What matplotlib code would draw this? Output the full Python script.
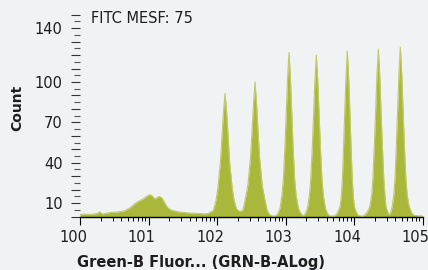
import numpy as np
import matplotlib
matplotlib.use("Agg")
import matplotlib.pyplot as plt
import matplotlib.transforms as mtransforms
from matplotlib.ticker import FixedLocator, NullFormatter

# ---- data (log10 of fluorescence, counts) ----
low_log = [0.0, 0.05, 0.15, 0.25, 0.29, 0.33, 0.42, 0.55, 0.65, 0.73, 0.80, 0.86,
           0.92, 0.97, 1.02, 1.06, 1.095, 1.13, 1.16, 1.20, 1.24, 1.28, 1.33, 1.42,
           1.55, 1.70, 1.82]
low_cnt = [1.5, 1.8, 1.5, 2.2, 3.4, 1.8, 2.8, 3.4, 4.2, 6.5, 9.5, 11.5,
           13.0, 15.0, 16.3, 15.0, 13.0, 14.2, 15.0, 13.5, 9.8, 6.5, 4.8, 3.6,
           2.8, 2.3, 2.0]

p1_log = [1.87, 1.948, 1.985, 2.012, 2.049, 2.071, 2.093, 2.117, 2.141, 2.163, 2.185,
          2.222, 2.249, 2.286, 2.336]
p1_cnt = [2.2, 4.6, 12, 21, 40, 59, 77, 91.6, 77, 59, 40, 21, 12, 5.5, 3.7]

p2_log = [2.38, 2.413, 2.45, 2.489, 2.512, 2.533, 2.555, 2.577, 2.598, 2.621,
          2.66, 2.697, 2.73, 2.765, 2.81]
p2_cnt = [5, 13, 23, 44, 64, 84, 100, 84, 64, 44, 23, 13, 5, 1.5, 0.4]

p3_log = [2.858, 2.89, 2.92, 2.948, 2.969, 2.993, 3.012, 3.030, 3.051, 3.072,
          3.090, 3.109, 3.133, 3.154, 3.188, 3.222, 3.255]
p3_cnt = [0.5, 2.4, 6, 16, 28, 53.7, 78, 102.5, 122, 102.5, 78, 53.7, 28, 16,
          6, 2.4, 0.4]

p4_log = [3.29, 3.32, 3.348, 3.368, 3.392, 3.411, 3.429, 3.45, 3.471, 3.489,
          3.508, 3.532, 3.552, 3.583, 3.612, 3.64, 3.68]
p4_cnt = [2.4, 6, 15.6, 27.6, 52.8, 77, 101, 120, 101, 77, 52.8, 27.6, 15.6,
          6, 2.4, 0.5, 0.3]

p5_log = [3.72, 3.755, 3.797, 3.816, 3.831, 3.849, 3.865, 3.882, 3.902, 3.922, 3.939,
          3.955, 3.974, 3.989, 4.004, 4.04, 4.075, 4.117]
p5_cnt = [0.5, 2.4, 7.3, 16, 28, 54, 79, 103, 123, 103, 79, 54, 28, 16, 7.3,
          2.4, 0.5, 0.3]

p6_log = [4.14, 4.183, 4.231, 4.258, 4.276, 4.298, 4.317, 4.334, 4.355, 4.376, 4.393,
          4.412, 4.434, 4.451, 4.466, 4.50, 4.515]
p6_cnt = [0.5, 2.4, 7.3, 16, 28.6, 55, 80, 104.6, 124.5, 104.6, 80, 55, 28.6,
          16, 7.3, 2.4, 1.5]

p7_log = [4.533, 4.556, 4.581, 4.599, 4.62, 4.638, 4.655, 4.676, 4.697, 4.715,
          4.733, 4.756, 4.776, 4.806, 4.844, 4.88, 5.0]
p7_cnt = [2.4, 7.3, 16, 29, 55.4, 80.6, 106, 126, 106, 80.6, 55.4, 29, 16, 7.3,
          2.4, 0.8, 0.3]

x_tick_labels = ["100", "101", "102", "103", "104", "105"]
y_tick_values = [10, 40, 70, 100, 140]
annotation = "FITC MESF: 75"
x_label = "Green-B Fluor... (GRN-B-ALog)"
y_label = "Count"

# ---- assemble ----
all_log = np.array(low_log + p1_log + p2_log + p3_log + p4_log + p5_log + p6_log + p7_log)
all_cnt = np.array(low_cnt + p1_cnt + p2_cnt + p3_cnt + p4_cnt + p5_cnt + p6_cnt + p7_cnt)
fluor = 10.0 ** all_log

W, H = 428, 270
bg = "#F1F2F4"
fill_col = "#A9B83B"
edge_col = "#C0CB6C"
txt = "#1E1E1E"

fig = plt.figure(figsize=(W / 100, H / 100), dpi=100, facecolor=bg)
ax = fig.add_axes([80 / W, (H - 216.5) / H, (422.5 - 80) / W, (216.5 - 14.75) / H])
ax.set_facecolor(bg)

ax.fill_between(fluor, 0, all_cnt, color=fill_col, linewidth=0)
ax.plot(fluor, all_cnt, color=edge_col, linewidth=0.8)

ax.set_xscale("log")
ax.set_xlim(1, 1e5)
ax.set_ylim(0, 150)

for s in ["top", "right", "left"]:
    ax.spines[s].set_visible(False)
ax.spines["bottom"].set_color("black")
ax.spines["bottom"].set_linewidth(1.0)
ax.spines["bottom"].set_zorder(3)

# x ticks
ax.set_xticks([10.0 ** k for k in range(6)])
ax.set_xticklabels(x_tick_labels)
minors = [m * 10.0 ** k for k in range(5) for m in range(2, 10)]
ax.xaxis.set_minor_locator(FixedLocator(minors))
ax.xaxis.set_minor_formatter(NullFormatter())
ax.tick_params(axis="x", which="major", length=5.5, width=0.8, color="black",
               labelsize=10.5, labelcolor=txt, pad=4)
ax.tick_params(axis="x", which="minor", length=2.8, width=0.7, color="black")
offset = mtransforms.ScaledTranslation(-7 / 100, 0, fig.dpi_scale_trans)
for lab in ax.get_xticklabels():
    lab.set_transform(lab.get_transform() + offset)

# y ticks: long every 10, short every 5
major_y = list(range(0, 151, 10))
ax.yaxis.set_major_locator(FixedLocator(major_y))
ax.set_yticklabels([str(v) if v in y_tick_values else "" for v in major_y])
ax.yaxis.set_minor_locator(FixedLocator(list(range(5, 150, 10))))
ax.yaxis.set_minor_formatter(NullFormatter())
ax.tick_params(axis="y", which="major", length=6.5, width=0.8, color="#333333",
               labelsize=10.5, labelcolor=txt, pad=6)
ax.tick_params(axis="y", which="minor", length=4.3, width=0.8, color="#555555")

fig.text(90.7 / W, 1 - 22.7 / H, annotation, fontsize=10.5, color=txt,
         ha="left", va="baseline")
fig.text(77 / W, 1 - 262 / H, x_label, fontsize=10.5, fontweight="bold",
         color=txt, ha="left", va="center")
fig.text(17 / W, 1 - 108 / H, y_label, fontsize=10, fontweight="bold",
         color=txt, ha="center", va="center", rotation=90)

fig.savefig("out.png", dpi=100, facecolor=bg)
